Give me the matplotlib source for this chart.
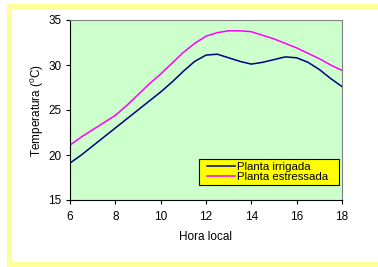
import matplotlib.pyplot as plt
from matplotlib.patches import Rectangle

plt.rcParams['font.family'] = ['Liberation Sans', 'DejaVu Sans']
plt.rcParams['mathtext.fontset'] = 'custom'
plt.rcParams['mathtext.rm'] = 'Liberation Sans'

hora = [6, 6.5, 7, 7.5, 8, 8.5, 9, 9.5, 10, 10.5, 11, 11.5, 12,
        12.5, 13, 13.5, 14, 14.5, 15, 15.5, 16, 16.5, 17, 17.5, 18]
irrigada = [19.1, 20.0, 21.0, 22.0, 23.0, 24.0, 25.0, 26.0, 27.0, 28.1,
            29.3, 30.4, 31.1, 31.2, 30.8, 30.4, 30.1, 30.3, 30.6, 30.9,
            30.8, 30.3, 29.5, 28.5, 27.6]
estressada = [21.1, 22.0, 22.8, 23.6, 24.4, 25.5, 26.7, 27.9, 29.0, 30.2,
              31.4, 32.4, 33.2, 33.6, 33.8, 33.8, 33.7, 33.3, 32.9, 32.4,
              31.9, 31.3, 30.7, 30.0, 29.4]

W, H = 378, 267
fig = plt.figure(figsize=(W / 100, H / 100), dpi=100)

# yellow frame around the chart area
fig.patches.append(Rectangle((7 / W, 0), 1, 1 - 4 / H, transform=fig.transFigure,
                             facecolor='#ffff99', edgecolor='none', zorder=-10))
fig.patches.append(Rectangle((12 / W, 5 / H), 1, 1 - 15 / H, transform=fig.transFigure,
                             facecolor='white', edgecolor='none', zorder=-9))

ax = fig.add_axes([70 / W, 1 - 200 / H, 272 / W, 180 / H])
ax.set_facecolor('#ccffcc')

ax.plot(hora, irrigada, color='#000080', lw=1.1, label='Planta irrigada')
ax.plot(hora, estressada, color='#ff00ff', lw=1.1, label='Planta estressada')

ax.set_xlim(6, 18)
ax.set_ylim(15, 35)
ax.set_xticks([6, 8, 10, 12, 14, 16, 18])
ax.set_yticks([15, 20, 25, 30, 35])
ax.tick_params(direction='out', length=3, width=0.8, labelsize=8.5)
ax.tick_params(axis='x', pad=5)
ax.tick_params(axis='y', pad=3)

for s in ['top', 'right']:
    ax.spines[s].set_color('#808080')
for s in ['left', 'bottom']:
    ax.spines[s].set_color('black')

ax.set_xlabel('Hora local', fontsize=8.5, labelpad=6)
ax.set_ylabel('Temperatura ($^0$C)', fontsize=8.5, labelpad=2)

# legend box drawn separately, legend itself without frame
ax.add_patch(Rectangle((0.4743, 0.085), 0.5147, 0.1444, transform=ax.transAxes,
                       facecolor='#ffff00', edgecolor='black', lw=0.8, zorder=4))
leg = ax.legend(loc='upper left', bbox_to_anchor=(0.5026, 0.212), fontsize=8.2,
                frameon=False, borderpad=0, labelspacing=-0.02,
                handlelength=2.5, handletextpad=0.2, borderaxespad=0)
leg.set_zorder(5)

fig.savefig('out.png', dpi=100)
